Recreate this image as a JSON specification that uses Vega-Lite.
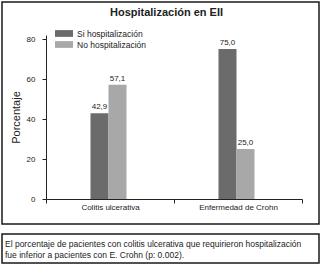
{
  "$schema": "https://vega.github.io/schema/vega-lite/v6.json",
  "padding": {"left": 1, "top": 1, "right": 1, "bottom": 2},
  "spacing": 10,
  "bounds": "flush",
  "config": {
    "view": {"stroke": "#1a1a1a", "strokeWidth": 1.5, "fill": "white"},
    "font": "Liberation Sans",
    "locale": {"number": {"decimal": ",", "thousands": ".", "grouping": [3], "currency": ["", " €"]}},
    "axis": {"domainColor": "#222", "tickColor": "#222", "labelColor": "#222", "labelFont": "Liberation Sans", "labelFontSize": 8, "grid": false, "domainWidth": 1, "tickWidth": 1}
  },
  "vconcat": [
    {
      "width": 317,
      "height": 222,
      "title": {"text": "Hospitalización en EII", "font": "Liberation Sans", "fontSize": 11, "fontWeight": "bold", "color": "#222", "anchor": "middle", "frame": "group", "offset": -16, "dx": 6},
      "data": {"values": [
        {"grupo": "Colitis ulcerativa", "hosp": "Si hospitalización", "pct": 42.9},
        {"grupo": "Colitis ulcerativa", "hosp": "No hospitalización", "pct": 57.1},
        {"grupo": "Enfermedad de Crohn", "hosp": "Si hospitalización", "pct": 75.0},
        {"grupo": "Enfermedad de Crohn", "hosp": "No hospitalización", "pct": 25.0}
      ]},
      "encoding": {
        "x": {"field": "grupo", "type": "nominal", "title": null,
              "scale": {"range": [44, 300], "paddingInner": 0, "paddingOuter": 0},
              "axis": {"orient": "bottom", "offset": -25, "labelAngle": 0, "tickSize": 4, "tickBand": "extent", "labelPadding": 0}},
        "xOffset": {"field": "hosp", "type": "nominal", "scale": {"domain": ["Si hospitalización", "No hospitalización"], "range": [44.5, 80.5], "paddingInner": 0, "paddingOuter": 0}},
        "y": {"field": "pct", "type": "quantitative",
              "scale": {"domain": [0, 82], "range": [197, 33], "nice": false},
              "axis": {"orient": "left", "offset": -44, "values": [0, 20, 40, 60, 80], "tickSize": 4, "labelPadding": 7, "title": "Porcentaje", "titleFont": "Liberation Sans", "titleFontSize": 11, "titleFontWeight": "normal", "titleColor": "#222", "titlePadding": 5}}
      },
      "layer": [
        {
          "mark": {"type": "bar"},
          "encoding": {
            "color": {"field": "hosp", "type": "nominal",
                      "scale": {"domain": ["Si hospitalización", "No hospitalización"], "range": ["#6b6b6b", "#a8a8a8"]},
                      "legend": {"orient": "none", "legendX": 57.5, "legendY": 27, "padding": 0, "title": null, "symbolType": "M-2,-0.75H2V0.75H-2Z", "symbolSize": 81, "symbolStrokeWidth": 0, "labelFontSize": 8.5, "labelColor": "#222", "labelOffset": 8.5, "rowPadding": 2}}
          }
        },
        {
          "mark": {"type": "text", "baseline": "bottom", "dy": -2, "fontSize": 8, "font": "Liberation Sans", "color": "#222"},
          "encoding": {"text": {"field": "pct", "type": "quantitative", "format": ".1f"}}
        }
      ]
    },
    {
      "width": 317,
      "height": 29,
      "data": {"values": [{"texto": "El porcentaje de pacientes con colitis ulcerativa que requirieron hospitalización\nfue inferior a pacientes con E. Crohn (p: 0.002)."}]},
      "mark": {"type": "text", "align": "left", "baseline": "middle", "lineBreak": "\n", "fontSize": 8.5, "lineHeight": 11.5, "dx": 3, "dy": -5, "color": "#222"},
      "encoding": {
        "x": {"datum": 0, "type": "quantitative", "scale": {"domain": [0, 1]}, "axis": null},
        "text": {"field": "texto", "type": "nominal"}
      }
    }
  ]
}
